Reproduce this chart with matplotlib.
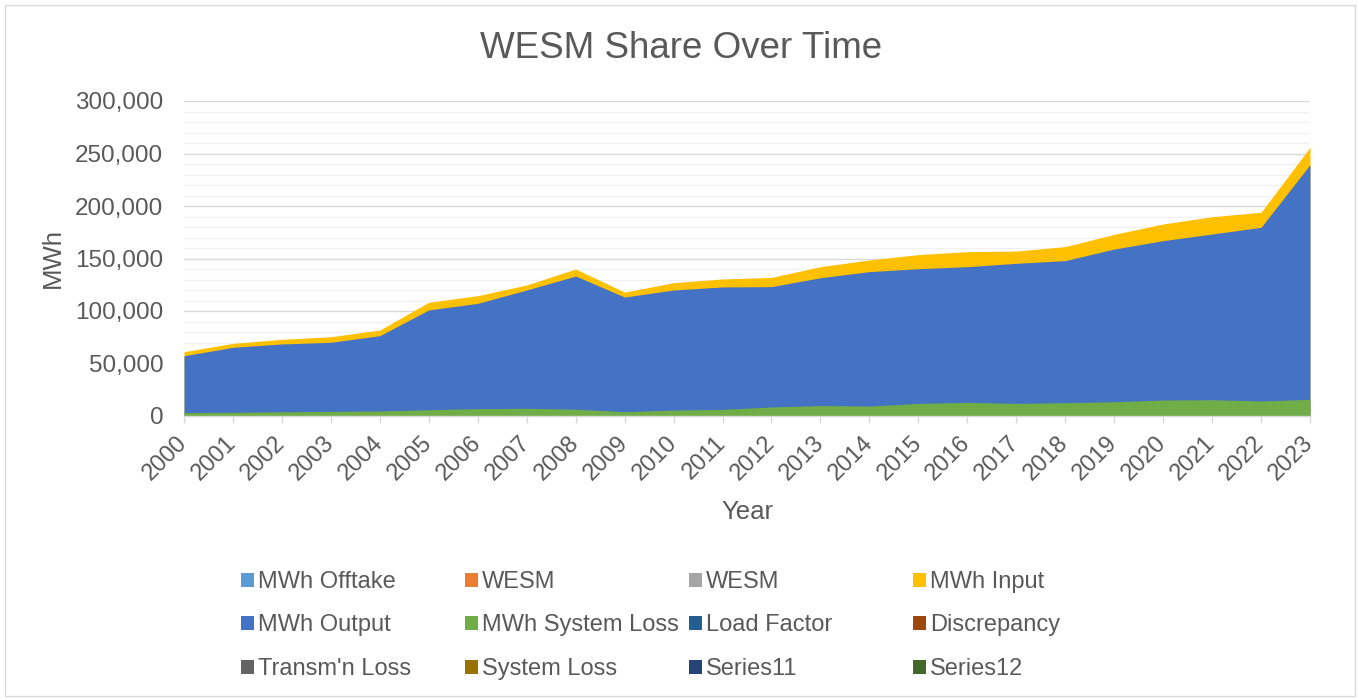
import matplotlib
matplotlib.use("Agg")
import matplotlib.pyplot as plt
from matplotlib.patches import Patch, Rectangle
from matplotlib.ticker import MultipleLocator, FuncFormatter
import numpy as np

plt.rcParams['font.family'] = ['Liberation Sans', 'DejaVu Sans']

years = [str(y) for y in range(2000, 2024)]
mwh_input = [61200, 69200, 73000, 75500, 81900, 108300, 114600, 124800, 140000, 118000,
             127000, 130500, 132000, 142200, 148600, 153700, 156500, 157100, 161300, 173000,
             182900, 189800, 194000, 255900]
mwh_output = [57400, 65400, 68600, 70200, 76500, 101000, 107300, 120000, 133300, 113300,
              120000, 122900, 123200, 131700, 137500, 140300, 142200, 145400, 148000, 159000,
              167000, 173300, 179700, 239400]
mwh_system_loss = [3200, 3500, 4000, 4400, 4800, 6000, 7000, 7300, 6500, 4100,
                   5700, 6300, 8600, 10000, 9500, 12000, 13000, 12000, 12700, 13600,
                   15200, 15500, 14300, 15900]

legend_names = ["MWh Offtake", "WESM", "WESM", "MWh Input",
                "MWh Output", "MWh System Loss", "Load Factor", "Discrepancy",
                "Transm'n Loss", "System Loss", "Series11", "Series12"]
legend_colors = ["#5B9BD5", "#ED7D31", "#A5A5A5", "#FFC000",
                 "#4472C4", "#70AD47", "#255E91", "#9E480E",
                 "#636363", "#997300", "#264478", "#43682B"]

TXT = "#595959"
W, H = 1359, 700
fig = plt.figure(figsize=(W / 100, H / 100), dpi=100)
fig.patches.append(Rectangle((4.5 / W, 4.5 / H), 1 - 9 / W, 1 - 9 / H, transform=fig.transFigure,
                             fill=False, edgecolor="#D9D9D9", linewidth=1))

ax = fig.add_axes([184 / W, 284 / H, 1126 / W, 315 / H])
x = np.arange(len(years))
ax.fill_between(x, 0, mwh_input, color="#FFC000", linewidth=0, zorder=2)
ax.fill_between(x, 0, mwh_output, color="#4472C4", linewidth=0, zorder=3)
ax.fill_between(x, 0, mwh_system_loss, color="#70AD47", linewidth=0, zorder=4)

ax.set_xlim(0, len(years) - 1)
ax.set_ylim(0, 300000)
ax.yaxis.set_major_locator(MultipleLocator(50000))
ax.yaxis.set_minor_locator(MultipleLocator(10000))
ax.yaxis.set_major_formatter(FuncFormatter(lambda v, p: f"{int(v):,}"))
ax.grid(which="major", axis="y", color="#D9D9D9", linewidth=1.0, zorder=0)
ax.grid(which="minor", axis="y", color="#F2F2F2", linewidth=1.0, zorder=0)
ax.set_axisbelow(True)
for s in ["top", "right", "left"]:
    ax.spines[s].set_visible(False)
ax.spines["bottom"].set_color("#D9D9D9")
ax.spines["bottom"].set_linewidth(1.0)
ax.spines["bottom"].set_zorder(5)

ax.set_xticks(x)
ax.set_xticklabels(years, rotation=45, ha="right", va="center", rotation_mode="anchor")
ax.tick_params(axis="x", colors="#D9D9D9", length=5, width=1, labelcolor=TXT, labelsize=17, pad=12)
ax.tick_params(axis="y", which="both", length=0, labelcolor=TXT, labelsize=17.5, pad=15)

ax.set_xlabel("Year", fontsize=18.5, color=TXT)
ax.xaxis.set_label_coords(0.5, -0.267)
ax.set_ylabel("MWh", fontsize=18.5, color=TXT)
ax.yaxis.set_label_coords(-0.1057, 0.5)

fig.text(681 / W, 1 - 49 / H, "WESM Share Over Time", ha="center", va="center",
         fontsize=26.5, color=TXT)

col_x = [241, 465, 689, 913]
for c in range(4):
    handles = [Patch(facecolor=legend_colors[r * 4 + c], edgecolor="none",
                     label=legend_names[r * 4 + c]) for r in range(3)]
    fig.legend(handles=handles, loc="upper left", bbox_to_anchor=(col_x[c] / W, 1 - 571 / H),
               frameon=False, fontsize=17, handlelength=0.55, handleheight=0.55,
               handletextpad=0.17, labelspacing=0.91, borderpad=0, borderaxespad=0,
               labelcolor=TXT)

fig.savefig("out.png", dpi=100)
